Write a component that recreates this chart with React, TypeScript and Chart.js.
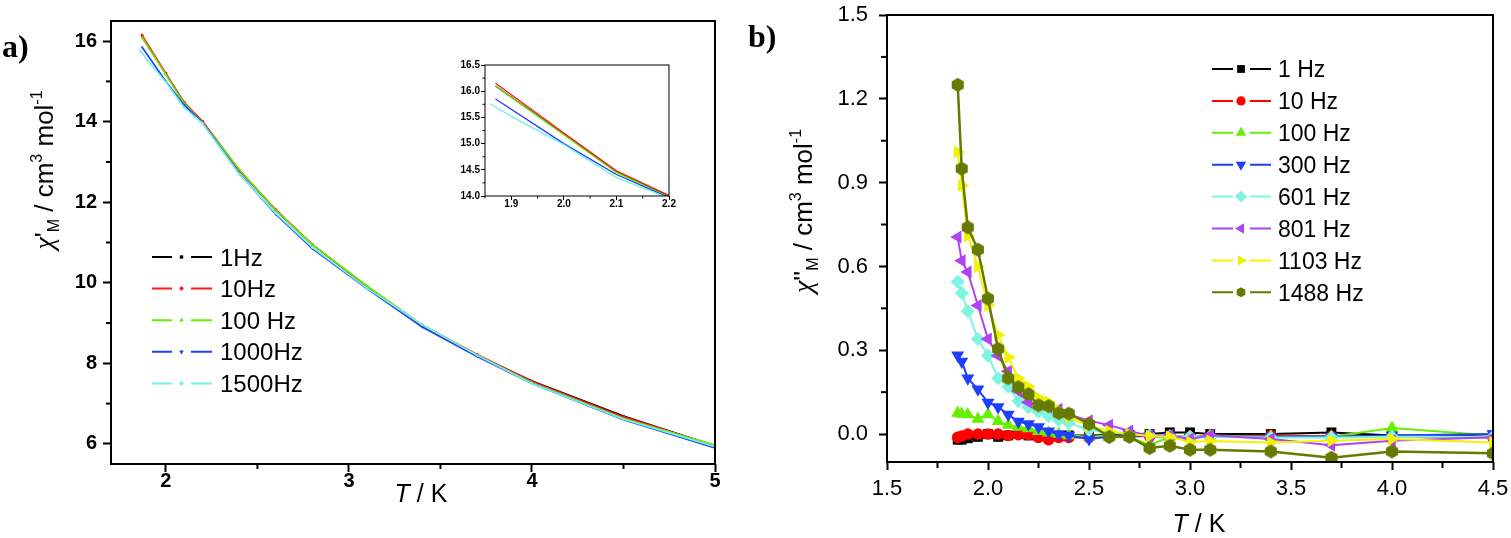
import { useEffect, useRef } from 'react';
import { Chart, registerables } from 'chart.js';

Chart.register(...registerables);

const SANS = '"Liberation Sans", Arial, Helvetica, sans-serif';
const SERIF = '"Liberation Serif", "Times New Roman", serif';

// ---------------- Panel a: chi' vs T ----------------
const T_A = [1.87, 2.0, 2.1, 2.2, 2.4, 2.6, 2.8, 3.1, 3.4, 3.7, 4.0, 4.5, 5.0];
const T_A_1500 = [1.86, 1.9, 2.0, 2.1, 2.2, 2.4, 2.6, 2.8, 3.1, 3.4, 3.7, 4.0, 4.5, 5.0];
const CHI1_1HZ = [16.1, 15.18, 14.46, 14.0, 12.8, 11.8, 10.95, 9.9, 8.95, 8.2, 7.56, 6.69, 5.95];
const CHI1_10HZ = [16.15, 15.2, 14.48, 14.01, 12.8, 11.82, 10.95, 9.9, 8.95, 8.22, 7.55, 6.67, 5.96];
const CHI1_100HZ = [16.1, 15.17, 14.45, 13.98, 12.82, 11.8, 10.95, 9.92, 8.95, 8.2, 7.52, 6.63, 5.97];
const CHI1_1000HZ = [15.85, 15.0, 14.41, 13.97, 12.72, 11.7, 10.85, 9.85, 8.9, 8.17, 7.5, 6.6, 5.9];
const CHI1_1500HZ = [15.76, 15.52, 14.98, 14.35, 13.96, 12.7, 11.73, 10.88, 9.86, 8.96, 8.2, 7.5, 6.61, 5.93];
const LABELS_A = ['1Hz', '10Hz', '100 Hz', '1000Hz', '1500Hz'];
const COLORS_A = ['#000000', '#ff1a1a', '#66ee00', '#1f3dff', '#6ff3ea'];

// ---------------- Panel b: chi'' vs T ----------------
const T_B = [1.85, 1.87, 1.9, 1.95, 2.0, 2.05, 2.1, 2.15, 2.2, 2.25, 2.3, 2.35, 2.4, 2.5, 2.6, 2.7, 2.8, 2.9, 3.0, 3.1, 3.4, 3.7, 4.0, 4.5];
const CHI2_1HZ = [-0.02, -0.02, -0.015, -0.01, 0.0, -0.01, -0.005, 0.0, -0.005, -0.005, -0.008, -0.008, -0.005, -0.005, -0.003, -0.003, 0.0, 0.006, 0.006, 0.0, 0.0, 0.006, -0.005, -0.005];
const CHI2_10HZ = [-0.012, -0.007, 0.0, 0.0, 0.0, 0.0, -0.005, -0.002, -0.002, -0.012, -0.02, -0.012, -0.012, -0.012, -0.01, -0.008, -0.008, -0.008, -0.01, -0.008, -0.005, -0.008, -0.008, -0.012];
const CHI2_100HZ = [0.075, 0.072, 0.07, 0.054, 0.07, 0.046, 0.032, 0.025, 0.02, 0.01, 0.005, 0.0, -0.005, -0.01, -0.005, -0.01, -0.04, -0.01, -0.012, -0.005, -0.01, -0.01, 0.022, -0.005];
const CHI2_300HZ = [0.282, 0.26, 0.2, 0.16, 0.113, 0.097, 0.07, 0.045, 0.036, 0.025, 0.01, 0.0, -0.005, -0.018, -0.01, -0.005, -0.008, -0.01, -0.012, -0.01, -0.01, -0.01, -0.005, 0.0];
const CHI2_601HZ = [0.545, 0.505, 0.44, 0.34, 0.28, 0.2, 0.17, 0.118, 0.096, 0.08, 0.064, 0.05, 0.04, 0.015, 0.005, 0.0, -0.005, -0.008, -0.01, -0.01, -0.012, -0.012, -0.01, -0.01];
const CHI2_801HZ = [0.705, 0.62, 0.58, 0.46, 0.34, 0.28, 0.225, 0.153, 0.114, 0.107, 0.096, 0.089, 0.07, 0.048, 0.032, 0.011, -0.007, -0.004, -0.018, -0.004, -0.018, -0.04, -0.024, -0.011];
const CHI2_1103HZ = [1.01, 0.89, 0.71, 0.6, 0.46, 0.355, 0.275, 0.2, 0.17, 0.13, 0.115, 0.085, 0.06, 0.03, 0.01, 0.0, -0.007, -0.01, -0.028, -0.025, -0.03, -0.024, -0.018, -0.03];
const CHI2_1488HZ = [1.25, 0.95, 0.74, 0.66, 0.485, 0.305, 0.2, 0.168, 0.143, 0.103, 0.1, 0.075, 0.073, 0.036, -0.01, -0.01, -0.05, -0.042, -0.056, -0.056, -0.062, -0.085, -0.062, -0.069];
const LABELS_B = ['1 Hz', '10 Hz', '100 Hz', '300 Hz', '601 Hz', '801 Hz', '1103 Hz', '1488 Hz'];
const COLORS_B = ['#000000', '#ff0000', '#66f000', '#1f3fff', '#7df5df', '#b042f0', '#f2f200', '#667a00'];

type Marker = { style: string; rot: number };
const MARKERS_A: Marker[] = [
  { style: 'rect', rot: 0 },
  { style: 'circle', rot: 0 },
  { style: 'triangle', rot: 0 },
  { style: 'triangle', rot: 180 },
  { style: 'rectRot', rot: 0 },
];
const MARKERS_B: Marker[] = [
  { style: 'rect', rot: 0 },
  { style: 'circle', rot: 0 },
  { style: 'triangle', rot: 0 },
  { style: 'triangle', rot: 180 },
  { style: 'rectRot', rot: 0 },
  { style: 'triangle', rot: -90 },
  { style: 'triangle', rot: 90 },
  { style: 'hex', rot: 0 },
];
const RADII_B = [7, 5.8, 7.5, 7.5, 7, 7.5, 7.5, 7];

// ---------------- helpers ----------------
function shapePath(ctx: CanvasRenderingContext2D, style: string, rot: number, x: number, y: number, r: number) {
  const rad = (rot * Math.PI) / 180;
  ctx.beginPath();
  if (style === 'rect') {
    const s = Math.SQRT1_2 * r;
    ctx.rect(x - s, y - s, 2 * s, 2 * s);
  } else if (style === 'circle') {
    ctx.arc(x, y, r, 0, Math.PI * 2);
  } else if (style === 'triangle') {
    for (let k = 0; k < 3; k++) {
      const a = rad + (k * 2 * Math.PI) / 3;
      const px = x + Math.sin(a) * r;
      const py = y - Math.cos(a) * r;
      if (k === 0) ctx.moveTo(px, py);
      else ctx.lineTo(px, py);
    }
  } else if (style === 'rectRot') {
    ctx.moveTo(x, y - r);
    ctx.lineTo(x + r, y);
    ctx.lineTo(x, y + r);
    ctx.lineTo(x - r, y);
  } else if (style === 'hex') {
    for (let k = 0; k < 6; k++) {
      const a = (k * Math.PI) / 3;
      const px = x + Math.sin(a) * r;
      const py = y - Math.cos(a) * r;
      if (k === 0) ctx.moveTo(px, py);
      else ctx.lineTo(px, py);
    }
  }
  ctx.closePath();
}

function makeHex(r: number, color: string): HTMLCanvasElement {
  const c = document.createElement('canvas');
  const s = Math.ceil(2 * r + 2);
  c.width = s;
  c.height = s;
  const ctx = c.getContext('2d')!;
  shapePath(ctx, 'hex', 0, s / 2, s / 2, r);
  ctx.fillStyle = color;
  ctx.fill();
  return c;
}

type Piece = { t: string; font: string; dy?: number };
function drawRich(ctx: CanvasRenderingContext2D, pieces: Piece[], cx: number, cy: number, rotate: boolean) {
  ctx.save();
  ctx.translate(cx, cy);
  if (rotate) ctx.rotate(-Math.PI / 2);
  ctx.fillStyle = '#000';
  ctx.textBaseline = 'alphabetic';
  ctx.textAlign = 'left';
  const widths = pieces.map((p) => {
    ctx.font = p.font;
    return ctx.measureText(p.t).width;
  });
  let x = -widths.reduce((a, b) => a + b, 0) / 2;
  pieces.forEach((p, i) => {
    ctx.font = p.font;
    ctx.fillText(p.t, x, p.dy || 0);
    x += widths[i];
  });
  ctx.restore();
}

type MinorSpec = { axis: string; step: number; len: number; width: number };
function drawMinor(chart: any, specs: MinorSpec[]) {
  const ctx: CanvasRenderingContext2D = chart.ctx;
  const area = chart.chartArea;
  ctx.save();
  ctx.strokeStyle = '#000';
  for (const s of specs) {
    const sc = chart.scales[s.axis];
    ctx.lineWidth = s.width;
    const i0 = Math.ceil(sc.min / s.step - 1e-6);
    const i1 = Math.floor(sc.max / s.step + 1e-6);
    for (let i = i0; i <= i1; i++) {
      const v = i * s.step;
      if (sc.ticks.some((t: any) => Math.abs(t.value - v) < s.step * 0.01)) continue;
      const p = sc.getPixelForValue(v);
      ctx.beginPath();
      if (sc.isHorizontal()) {
        ctx.moveTo(p, area.bottom);
        ctx.lineTo(p, area.bottom + s.len);
      } else {
        ctx.moveTo(area.left, p);
        ctx.lineTo(area.left - s.len, p);
      }
      ctx.stroke();
    }
  }
  ctx.restore();
}

function drawBox(chart: any, lw: number) {
  const ctx: CanvasRenderingContext2D = chart.ctx;
  const a = chart.chartArea;
  ctx.save();
  ctx.strokeStyle = '#000';
  ctx.lineWidth = lw;
  ctx.strokeRect(a.left, a.top, a.right - a.left, a.bottom - a.top);
  ctx.restore();
}

type LegendSpec = {
  x1: number; x2: number; mx: number; x3: number; x4: number; tx: number;
  y0: number; dy: number; size: number; lw: number; radii: number[];
  labels: string[]; colors: string[]; markers: Marker[];
};
function drawLegend(ctx: CanvasRenderingContext2D, L: LegendSpec) {
  ctx.save();
  L.labels.forEach((lab, i) => {
    const y = L.y0 + i * L.dy;
    ctx.strokeStyle = L.colors[i];
    ctx.lineWidth = L.lw;
    ctx.beginPath();
    ctx.moveTo(L.x1, y);
    ctx.lineTo(L.x2, y);
    ctx.moveTo(L.x3, y);
    ctx.lineTo(L.x4, y);
    ctx.stroke();
    const m = L.markers[i];
    shapePath(ctx, m.style, m.rot, L.mx, y, L.radii[i]);
    ctx.fillStyle = L.colors[i];
    ctx.fill();
    ctx.fillStyle = '#000';
    ctx.font = `${L.size}px ${SANS}`;
    ctx.textBaseline = 'alphabetic';
    ctx.textAlign = 'left';
    ctx.fillText(lab, L.tx, y + L.size * 0.358);
  });
  ctx.restore();
}

const fixedY = (w: number) => (scale: any) => {
  scale.width = w;
  scale.paddingTop = 0;
  scale.paddingBottom = 0;
};
const fixedX = (h: number) => (scale: any) => {
  scale.height = h;
  scale.paddingLeft = 0;
  scale.paddingRight = 0;
};

function axis(o: {
  min: number; max: number; step: number; fit: (s: any) => void; tick: number; tickW: number;
  size: number; bold: boolean; pad: number; lh: number; fmt: (v: number) => string;
}) {
  return {
    type: 'linear',
    min: o.min,
    max: o.max,
    afterFit: o.fit,
    border: { display: false },
    grid: { display: true, drawOnChartArea: false, drawTicks: true, tickLength: o.tick, tickWidth: o.tickW, tickColor: '#000' },
    ticks: {
      stepSize: o.step,
      includeBounds: false,
      autoSkip: false,
      maxRotation: 0,
      minRotation: 0,
      color: '#000',
      padding: o.pad,
      font: { family: SANS, size: o.size, weight: o.bold ? 'bold' : 'normal', lineHeight: o.lh },
      callback: (v: any) => o.fmt(Number(v)),
    },
  };
}

const f1 = (v: number) => (Math.abs(v) < 1e-9 ? '0.0' : v.toFixed(1));
const f0 = (v: number) => String(Math.round(v));

const SERIES_A = [
  { xs: T_A, ys: CHI1_1HZ },
  { xs: T_A, ys: CHI1_10HZ },
  { xs: T_A, ys: CHI1_100HZ },
  { xs: T_A, ys: CHI1_1000HZ },
  { xs: T_A_1500, ys: CHI1_1500HZ },
];
const SERIES_B = [CHI2_1HZ, CHI2_10HZ, CHI2_100HZ, CHI2_300HZ, CHI2_601HZ, CHI2_801HZ, CHI2_1103HZ, CHI2_1488HZ];

function datasetsA(lw: number, pr: number) {
  return SERIES_A.map((s, i) => ({
    label: LABELS_A[i],
    data: s.xs.map((x, k) => ({ x, y: s.ys[k] })),
    borderColor: COLORS_A[i],
    backgroundColor: COLORS_A[i],
    borderWidth: lw,
    pointRadius: pr,
    pointStyle: MARKERS_A[i].style,
    pointRotation: MARKERS_A[i].rot,
    pointBorderWidth: 0,
    tension: 0,
    order: SERIES_A.length - 1 - i,
  }));
}

function makePanelA(canvas: HTMLCanvasElement) {
  const legend: LegendSpec = {
    x1: 152, x2: 172, mx: 181.5, x3: 191, x4: 212, tx: 220, y0: 257, dy: 31.6, size: 24, lw: 2,
    radii: [2.4, 2, 2.6, 2.6, 2.4], labels: LABELS_A, colors: COLORS_A, markers: MARKERS_A,
  };
  return new Chart(canvas, {
    type: 'line',
    data: { datasets: datasetsA(1.6, 1.6) as any },
    options: {
      responsive: false,
      animation: false,
      events: [],
      layout: { padding: { left: 51, top: 21, right: 25, bottom: 34 } },
      plugins: { legend: { display: false }, tooltip: { enabled: false } },
      scales: {
        x: axis({ min: 1.7, max: 5, step: 1, fit: fixedX(40), tick: 8, tickW: 2, size: 20, bold: true, pad: 0, lh: 0.9, fmt: f0 }),
        y: axis({ min: 5.5, max: 16.5, step: 2, fit: fixedY(60), tick: 8, tickW: 2, size: 20, bold: true, pad: 6, lh: 1.2, fmt: f0 }),
      } as any,
    },
    plugins: [
      {
        id: 'decorA',
        afterDraw(chart: any) {
          const ctx = chart.ctx as CanvasRenderingContext2D;
          drawBox(chart, 2);
          drawMinor(chart, [
            { axis: 'x', step: 0.5, len: 5, width: 2 },
            { axis: 'y', step: 1, len: 5, width: 2 },
          ]);
          drawLegend(ctx, legend);
          const big = `26px ${SANS}`;
          const small = `16px ${SANS}`;
          drawRich(ctx, [
            { t: 'χ', font: `italic 28px ${SERIF}` },
            { t: "'", font: big },
            { t: 'M', font: small, dy: 6 },
            { t: ' / cm', font: big },
            { t: '3', font: small, dy: -11 },
            { t: ' mol', font: big },
            { t: '-1', font: small, dy: -11 },
          ], 53, 170, true);
          drawRich(ctx, [
            { t: 'T', font: `italic 25px ${SANS}` },
            { t: ' / K', font: `25px ${SANS}` },
          ], 421, 502, false);
          ctx.save();
          ctx.fillStyle = '#000';
          ctx.font = `bold 32px ${SERIF}`;
          ctx.textAlign = 'left';
          ctx.textBaseline = 'alphabetic';
          ctx.fillText('a)', 2, 57);
          ctx.restore();
        },
      },
    ],
  });
}

function makeInset(canvas: HTMLCanvasElement) {
  return new Chart(canvas, {
    type: 'line',
    data: { datasets: datasetsA(1.3, 0) as any },
    options: {
      responsive: false,
      animation: false,
      events: [],
      layout: { padding: { left: 5, top: 15, right: 11, bottom: 4 } },
      plugins: { legend: { display: false }, tooltip: { enabled: false } },
      scales: {
        x: axis({ min: 1.85, max: 2.2, step: 0.1, fit: fixedX(20), tick: 4, tickW: 1, size: 10, bold: true, pad: -1, lh: 1, fmt: f1 }),
        y: axis({ min: 14, max: 16.5, step: 0.5, fit: fixedY(40), tick: 4, tickW: 1, size: 10, bold: true, pad: 1, lh: 1.2, fmt: f1 }),
      } as any,
    },
    plugins: [
      {
        id: 'decorInset',
        afterDraw(chart: any) {
          drawBox(chart, 1);
          drawMinor(chart, [
            { axis: 'x', step: 0.05, len: 2.5, width: 1 },
            { axis: 'y', step: 0.25, len: 2.5, width: 1 },
          ]);
        },
      },
    ],
  });
}

function makePanelB(canvas: HTMLCanvasElement) {
  const hex = makeHex(RADII_B[7], COLORS_B[7]);
  const datasets = SERIES_B.map((ys, i) => ({
    label: LABELS_B[i],
    data: T_B.map((x, k) => ({ x, y: ys[k] })),
    borderColor: COLORS_B[i],
    backgroundColor: COLORS_B[i],
    borderWidth: i === 7 ? 2.5 : 2,
    pointRadius: RADII_B[i],
    pointStyle: MARKERS_B[i].style === 'hex' ? hex : MARKERS_B[i].style,
    pointRotation: MARKERS_B[i].rot,
    pointBorderWidth: 0,
    tension: 0,
    order: SERIES_B.length - 1 - i,
  }));
  const legend: LegendSpec = {
    x1: 472, x2: 493, mx: 501, x3: 510, x4: 531, tx: 538, y0: 69, dy: 31.9, size: 23, lw: 2,
    radii: [5.5, 4.6, 6, 6, 6, 6, 6, 5], labels: LABELS_B, colors: COLORS_B, markers: MARKERS_B,
  };
  return new Chart(canvas, {
    type: 'line',
    data: { datasets: datasets as any },
    options: {
      responsive: false,
      animation: false,
      events: [],
      layout: { padding: { left: 57, top: 15, right: 18, bottom: 36 } },
      plugins: { legend: { display: false }, tooltip: { enabled: false } },
      scales: {
        x: axis({ min: 1.5, max: 4.5, step: 0.5, fit: fixedX(40), tick: 8, tickW: 2, size: 22, bold: false, pad: 6, lh: 1.2, fmt: f1 }),
        y: axis({ min: -0.1, max: 1.5, step: 0.3, fit: fixedY(90), tick: 8, tickW: 2, size: 22, bold: false, pad: 11, lh: 1.2, fmt: f1 }),
      } as any,
    },
    plugins: [
      {
        id: 'decorB',
        afterDraw(chart: any) {
          const ctx = chart.ctx as CanvasRenderingContext2D;
          drawBox(chart, 2);
          drawMinor(chart, [
            { axis: 'x', step: 0.25, len: 6, width: 2 },
            { axis: 'y', step: 0.15, len: 6, width: 2 },
          ]);
          drawLegend(ctx, legend);
          const big = `26px ${SANS}`;
          const small = `16px ${SANS}`;
          drawRich(ctx, [
            { t: 'χ', font: `italic 28px ${SERIF}` },
            { t: "''", font: big },
            { t: 'M', font: small, dy: 6 },
            { t: ' / cm', font: big },
            { t: '3', font: small, dy: -11 },
            { t: ' mol', font: big },
            { t: '-1', font: small, dy: -11 },
          ], 72, 211, true);
          drawRich(ctx, [
            { t: 'T', font: `italic 25px ${SANS}` },
            { t: ' / K', font: `25px ${SANS}` },
          ], 459, 532, false);
          ctx.save();
          ctx.fillStyle = '#000';
          ctx.font = `bold 32px ${SERIF}`;
          ctx.textAlign = 'left';
          ctx.textBaseline = 'alphabetic';
          ctx.fillText('b)', 8, 47);
          ctx.restore();
        },
      },
    ],
  });
}

function ChartCanvas(props: { left: number; top: number; width: number; height: number; make: (c: HTMLCanvasElement) => Chart }) {
  const ref = useRef<HTMLCanvasElement>(null);
  useEffect(() => {
    const chart = props.make(ref.current!);
    return () => chart.destroy();
  }, []);
  return (
    <canvas
      ref={ref}
      width={props.width}
      height={props.height}
      style={{ position: 'absolute', left: props.left, top: props.top, width: props.width, height: props.height }}
    />
  );
}

export default function App() {
  return (
    <div style={{ position: 'absolute', left: 0, top: 0, width: 1511, height: 538, background: '#fff', overflow: 'hidden' }}>
      <ChartCanvas left={0} top={0} width={740} height={538} make={makePanelA} />
      <ChartCanvas left={440} top={50} width={240} height={170} make={makeInset} />
      <ChartCanvas left={740} top={0} width={771} height={538} make={makePanelB} />
    </div>
  );
}
